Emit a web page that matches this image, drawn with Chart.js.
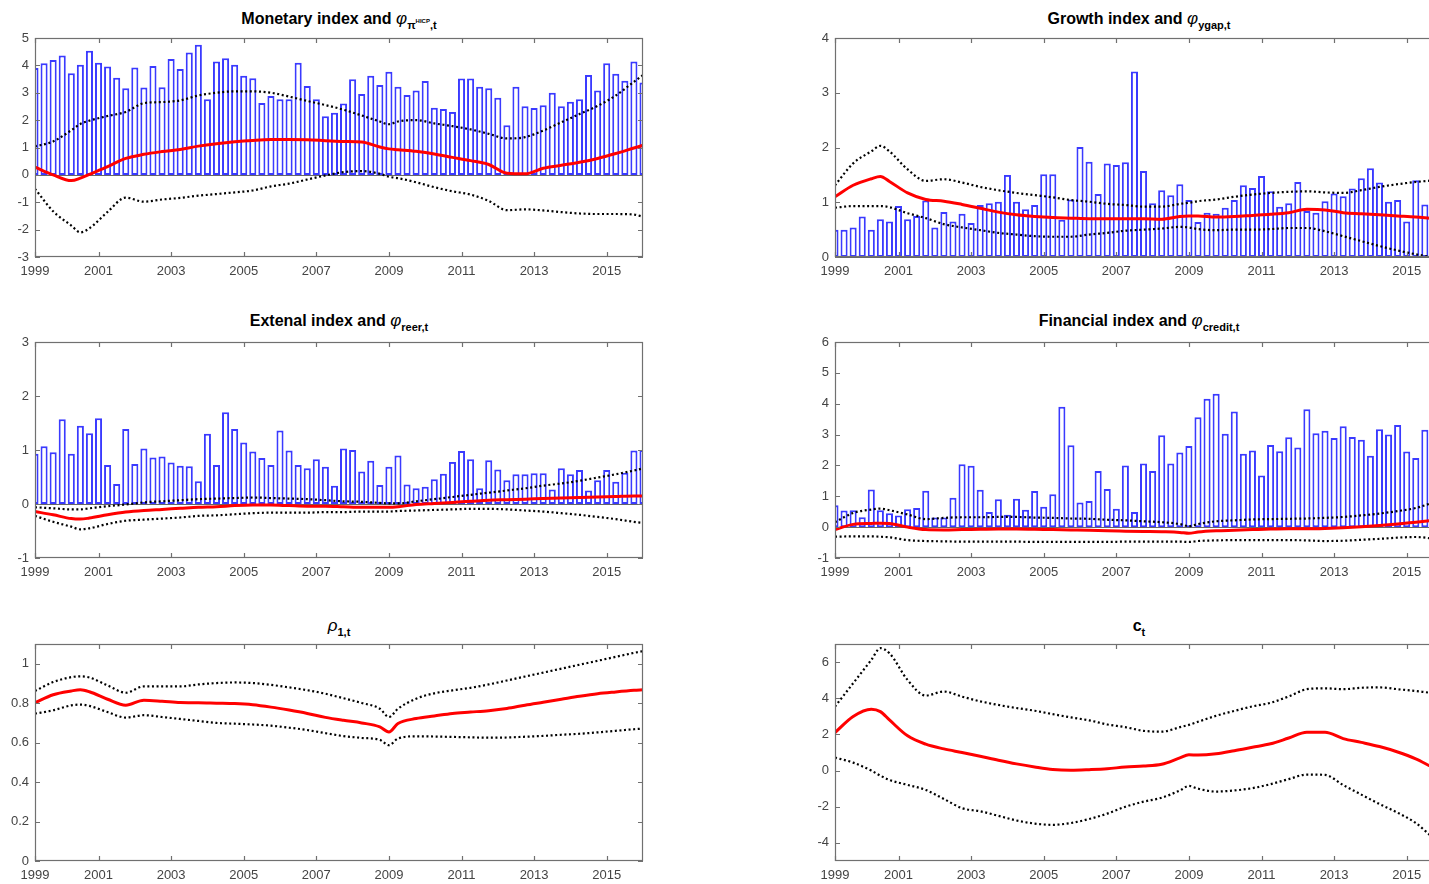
<!DOCTYPE html>
<html>
<head>
<meta charset="utf-8">
<script src="https://cdn.jsdelivr.net/npm/chart.js@4.4.1/dist/chart.umd.min.js"></script>
<style>
  html, body { margin:0; padding:0; background:#fff; }
  body { position:relative; width:1429px; height:884px; overflow:hidden; }
  canvas { position:absolute; }
  .t { position:absolute; width:608px; text-align:center; font:bold 16px 'Liberation Sans', Arial, sans-serif; color:#000; line-height:20px; white-space:nowrap; }
  .t sub { font-size:11px; vertical-align:-5px; line-height:0; }
  .t sub sup { font-size:6px; vertical-align:6px; }
  .t .ph { font-weight:normal; font-style:italic; font-size:17px; }
</style>
</head>
<body>
<div class="t" style="left:35px;top:9px">Monetary index and <span class="ph">φ</span><sub>π<sup>HICP</sup>,t</sub></div>
<div class="t" style="left:835px;top:9px">Growth index and <span class="ph">φ</span><sub>ygap,t</sub></div>
<div class="t" style="left:35px;top:311px">Extenal index and <span class="ph">φ</span><sub>reer,t</sub></div>
<div class="t" style="left:835px;top:311px">Financial index and <span class="ph">φ</span><sub>credit,t</sub></div>
<div class="t" style="left:35px;top:616px"><span class="ph">ρ</span><sub>1,t</sub></div>
<div class="t" style="left:835px;top:616px">c<sub>t</sub></div>
<script>
// ---------- categories / ticks ----------
const quarterIdx = [1,2,3,4,5,6,7,8,9,10,11,12,13,14,15,16,17,18,19,20,21,22,23,24,25,26,27,28,29,30,31,32,33,34,35,36,37,38,39,40,41,42,43,44,45,46,47,48,49,50,51,52,53,54,55,56,57,58,59,60,61,62,63,64,65,66,67,68];
const lineIdx = [1,3,5,6,7,9,11,13,15,17,19,21,23,25,27,29,31,33,35,37,39,40,41,43,45,47,49,51,53,55,57,59,61,63,65,67,68];
const xTickIdx = [1,8,16,24,32,40,48,56,64];
const xTickLabels = ['1999','2001','2003','2005','2007','2009','2011','2013','2015'];

// ---------- Monetary ----------
const monetaryBars = [3.90,4.08,4.20,4.36,3.71,4.02,4.53,4.10,3.96,3.55,3.16,3.92,3.19,3.98,3.20,4.23,3.87,4.47,4.75,2.76,4.14,4.26,4.02,3.62,3.53,2.63,2.88,2.76,2.76,4.10,3.25,2.76,2.14,2.27,2.61,3.49,2.95,3.62,3.28,3.77,3.22,2.92,3.08,3.43,2.45,2.41,2.30,3.52,3.52,3.22,3.16,2.82,1.81,3.22,2.51,2.44,2.54,3.00,2.51,2.67,2.76,3.65,3.08,4.08,3.69,3.44,4.14,3.37];
const monetaryMean = [0.28,0.0,-0.21,-0.12,0.02,0.3,0.6,0.75,0.85,0.93,1.05,1.14,1.21,1.26,1.29,1.29,1.28,1.25,1.22,1.2,1.02,0.95,0.92,0.86,0.76,0.64,0.52,0.38,0.06,0.04,0.24,0.35,0.46,0.6,0.78,0.98,1.08];
const monetaryUpper = [1.04,1.22,1.63,1.86,1.98,2.15,2.3,2.62,2.66,2.72,2.9,3.0,3.05,3.05,3.0,2.86,2.7,2.55,2.38,2.17,1.95,1.85,1.95,2.0,1.88,1.78,1.66,1.5,1.33,1.38,1.62,1.92,2.22,2.52,2.9,3.4,3.65];
const monetaryLower = [-0.51,-1.33,-1.85,-2.1,-1.95,-1.35,-0.83,-0.98,-0.9,-0.84,-0.76,-0.7,-0.64,-0.57,-0.42,-0.32,-0.17,-0.02,0.1,0.14,0.04,-0.07,-0.12,-0.27,-0.45,-0.6,-0.72,-0.95,-1.29,-1.26,-1.3,-1.36,-1.41,-1.43,-1.43,-1.45,-1.53];
const monetaryYTicks = [-3,-2,-1,0,1,2,3,4,5];

// ---------- Growth ----------
const growthBars = [0.5,0.5,0.54,0.74,0.5,0.69,0.65,0.93,0.69,0.75,1.03,0.54,0.82,0.65,0.79,0.62,0.95,0.98,1.01,1.5,1.01,0.87,0.95,1.51,1.51,0.68,1.05,2.01,1.74,1.15,1.71,1.68,1.73,3.39,1.57,0.98,1.22,1.13,1.33,1.04,0.64,0.81,0.79,0.90,1.04,1.31,1.26,1.48,1.2,0.92,0.98,1.37,0.84,0.81,1.02,1.16,1.11,1.25,1.44,1.62,1.36,1.01,1.04,0.65,1.40,0.96,1.13,1.0];
const growthMean = [1.10,1.31,1.43,1.47,1.38,1.17,1.05,1.02,0.96,0.89,0.82,0.77,0.74,0.72,0.71,0.70,0.70,0.70,0.70,0.69,0.74,0.75,0.75,0.73,0.74,0.76,0.78,0.81,0.87,0.86,0.81,0.79,0.77,0.75,0.73,0.70,0.69];
const growthUpper = [1.31,1.71,1.93,2.03,1.93,1.6,1.39,1.42,1.36,1.28,1.22,1.17,1.13,1.09,1.04,1.01,0.97,0.95,0.92,0.92,0.97,0.99,1.02,1.05,1.10,1.14,1.17,1.19,1.2,1.18,1.17,1.22,1.28,1.33,1.37,1.40,1.41];
const growthLower = [0.90,0.93,0.93,0.93,0.91,0.80,0.71,0.60,0.54,0.49,0.44,0.41,0.38,0.37,0.37,0.41,0.44,0.48,0.50,0.52,0.55,0.54,0.51,0.49,0.50,0.50,0.51,0.53,0.53,0.47,0.38,0.29,0.2,0.12,0.05,-0.01,-0.04];
const growthYTicks = [0,1,2,3,4];

// ---------- External ----------
const externalBars = [0.93,1.07,0.96,1.57,0.93,1.45,1.31,1.59,0.72,0.37,1.39,0.74,1.03,0.86,0.88,0.77,0.71,0.70,0.42,1.30,0.72,1.70,1.39,1.14,0.97,0.85,0.72,1.36,0.99,0.72,0.66,0.83,0.69,0.34,1.03,1.0,0.60,0.80,0.35,0.69,0.90,0.36,0.29,0.32,0.46,0.56,0.78,0.98,0.83,0.29,0.81,0.64,0.44,0.55,0.55,0.57,0.57,0.27,0.66,0.55,0.63,0.25,0.44,0.63,0.41,0.58,0.99,1.0];
const externalMean = [-0.14,-0.2,-0.27,-0.28,-0.26,-0.2,-0.15,-0.12,-0.10,-0.08,-0.06,-0.05,-0.03,-0.02,-0.02,-0.03,-0.04,-0.04,-0.05,-0.06,-0.06,-0.06,-0.05,-0.01,0.01,0.03,0.05,0.07,0.08,0.09,0.10,0.11,0.12,0.13,0.14,0.15,0.15];
const externalUpper = [-0.06,-0.08,-0.1,-0.1,-0.08,-0.04,-0.01,0.03,0.05,0.07,0.09,0.10,0.11,0.12,0.11,0.10,0.09,0.07,0.05,0.04,0.02,0.01,0.01,0.05,0.09,0.13,0.17,0.21,0.25,0.29,0.34,0.38,0.43,0.49,0.55,0.62,0.66];
const externalLower = [-0.22,-0.33,-0.42,-0.47,-0.45,-0.37,-0.31,-0.29,-0.27,-0.25,-0.22,-0.21,-0.19,-0.17,-0.16,-0.16,-0.16,-0.15,-0.15,-0.14,-0.14,-0.14,-0.13,-0.12,-0.11,-0.10,-0.09,-0.09,-0.10,-0.12,-0.14,-0.17,-0.20,-0.24,-0.28,-0.33,-0.35];
const externalYTicks = [-1,0,1,2,3];

// ---------- Financial ----------
const financialBars = [0.71,0.54,0.55,0.32,1.22,0.55,0.45,0.38,0.58,0.62,1.18,0.31,0.31,0.95,2.04,1.99,1.21,0.49,0.9,0.4,0.92,0.56,1.17,0.66,1.07,3.9,2.65,0.8,0.85,1.82,1.24,0.6,2.0,0.49,2.06,1.82,2.98,2.06,2.42,2.63,3.56,4.16,4.32,3.03,3.75,2.38,2.48,1.67,2.66,2.46,2.91,2.58,3.82,3.04,3.12,2.89,3.27,2.92,2.83,2.31,3.17,3.0,3.31,2.45,2.24,3.16,1.94,2.5];
const financialMean = [-0.08,0.09,0.12,0.13,0.12,0.0,-0.08,-0.09,-0.08,-0.07,-0.06,-0.06,-0.07,-0.08,-0.09,-0.10,-0.12,-0.13,-0.14,-0.15,-0.17,-0.2,-0.16,-0.12,-0.10,-0.08,-0.06,-0.05,-0.05,-0.04,-0.02,0.01,0.05,0.10,0.16,0.22,0.25];
const financialUpper = [0.16,0.46,0.57,0.6,0.55,0.41,0.26,0.30,0.32,0.32,0.33,0.33,0.31,0.30,0.28,0.27,0.24,0.22,0.19,0.16,0.10,0.03,0.10,0.19,0.22,0.25,0.26,0.27,0.28,0.30,0.33,0.38,0.44,0.52,0.62,0.80,0.87];
const financialLower = [-0.31,-0.30,-0.30,-0.31,-0.33,-0.42,-0.45,-0.46,-0.47,-0.47,-0.47,-0.47,-0.48,-0.48,-0.48,-0.48,-0.48,-0.47,-0.47,-0.47,-0.47,-0.48,-0.45,-0.43,-0.42,-0.42,-0.42,-0.42,-0.43,-0.45,-0.44,-0.41,-0.38,-0.34,-0.32,-0.38,-0.43];
const financialYTicks = [-1,0,1,2,3,4,5,6];

// ---------- rho_1,t ----------
const rhoMean = [0.803,0.843,0.862,0.868,0.858,0.82,0.79,0.815,0.81,0.803,0.802,0.80,0.798,0.792,0.78,0.765,0.748,0.728,0.713,0.70,0.68,0.654,0.697,0.722,0.735,0.748,0.755,0.762,0.773,0.79,0.805,0.82,0.835,0.848,0.857,0.865,0.868];
const rhoUpper = [0.862,0.907,0.932,0.936,0.93,0.89,0.853,0.885,0.885,0.885,0.895,0.902,0.905,0.902,0.893,0.88,0.866,0.848,0.825,0.801,0.772,0.73,0.772,0.823,0.85,0.865,0.878,0.895,0.915,0.935,0.955,0.975,0.995,1.015,1.035,1.055,1.064];
const rhoLower = [0.747,0.764,0.789,0.793,0.786,0.755,0.727,0.739,0.73,0.72,0.71,0.70,0.696,0.692,0.686,0.676,0.664,0.648,0.633,0.624,0.614,0.587,0.621,0.632,0.631,0.629,0.627,0.625,0.626,0.63,0.634,0.64,0.645,0.652,0.66,0.668,0.671];
const rhoYTicks = [0,0.2,0.4,0.6,0.8,1];

// ---------- c_t ----------
const cMean = [2.10,2.99,3.39,3.26,2.8,1.92,1.46,1.2,1.0,0.79,0.57,0.37,0.2,0.06,0.02,0.05,0.1,0.2,0.25,0.35,0.7,0.87,0.86,0.93,1.1,1.29,1.48,1.8,2.12,2.12,1.77,1.56,1.33,1.03,0.65,0.15,-0.05];
const cUpper = [3.54,4.83,6.12,6.77,6.49,5.01,4.15,4.37,4.09,3.83,3.63,3.46,3.31,3.12,2.94,2.78,2.55,2.40,2.2,2.15,2.4,2.53,2.7,3.03,3.3,3.55,3.75,4.1,4.5,4.55,4.5,4.58,4.6,4.5,4.4,4.3,4.3];
const cLower = [0.72,0.44,0.0,-0.28,-0.52,-0.79,-1.07,-1.57,-2.08,-2.25,-2.5,-2.76,-2.93,-3.0,-2.9,-2.68,-2.38,-2.0,-1.72,-1.5,-1.1,-0.85,-1.0,-1.16,-1.1,-0.97,-0.75,-0.47,-0.22,-0.24,-0.8,-1.33,-1.85,-2.33,-2.9,-3.75,-4.1];
const cYTicks = [-4,-2,0,2,4,6];

// ---------- drawing ----------
Chart.defaults.font.family = "'Liberation Sans', Arial, sans-serif";
Chart.defaults.font.size = 13;
Chart.defaults.color = '#444444';

const framePlugin = {
  id: 'frame',
  afterDatasetDraw(chart, args, opts) {
    if (!opts.baseline || args.meta.type !== 'bar') return;
    const { ctx, chartArea: a } = chart;
    const y = Math.round(chart.scales.y.getPixelForValue(0)) + 0.5;
    ctx.save();
    ctx.strokeStyle = '#666666';
    ctx.lineWidth = 1;
    ctx.beginPath(); ctx.moveTo(a.left, y); ctx.lineTo(a.right, y); ctx.stroke();
    ctx.restore();
  },
  afterDraw(chart) {
    const { ctx, chartArea: a, scales } = chart;
    ctx.save();
    ctx.strokeStyle = '#707070';
    ctx.lineWidth = 1.2;
    ctx.strokeRect(a.left + 0.5, a.top + 0.5, a.right - a.left - 1, a.bottom - a.top - 1);
    ctx.beginPath();
    const tl = 5;
    scales.x.ticks.forEach(t => {
      const px = Math.round(scales.x.getPixelForValue(t.value)) + 0.5;
      ctx.moveTo(px, a.bottom); ctx.lineTo(px, a.bottom - tl);
      ctx.moveTo(px, a.top); ctx.lineTo(px, a.top + tl);
    });
    scales.y.ticks.forEach(t => {
      const py = Math.round(scales.y.getPixelForValue(t.value)) + 0.5;
      ctx.moveTo(a.left, py); ctx.lineTo(a.left + tl, py);
      ctx.moveTo(a.right, py); ctx.lineTo(a.right - tl, py);
    });
    ctx.stroke();
    ctx.restore();
  }
};

function fmt(v) { return String(Math.round(v * 10) / 10); }

function makeChart(p) {
  const canvas = document.createElement('canvas');
  canvas.width = 660;
  canvas.height = p.h;
  canvas.style.left = p.left + 'px';
  canvas.style.top = p.top + 'px';
  document.body.appendChild(canvas);

  const datasets = [];
  if (p.bars) {
    datasets.push({
      type: 'bar',
      data: quarterIdx.map((x, i) => ({ x: x, y: p.bars[i] })),
      backgroundColor: '#ffffff',
      borderColor: '#3a3aff',
      borderWidth: 2,
      borderSkipped: false,
      barPercentage: 0.78,
      categoryPercentage: 1,
      order: 3,
      clip: 0
    });
  }
  const line = (vals, color, width, dash, order) => ({
    type: 'line',
    data: lineIdx.map((x, i) => ({ x: x, y: vals[i] })),
    borderColor: color,
    borderWidth: width,
    borderDash: dash,
    pointRadius: 0,
    fill: false,
    cubicInterpolationMode: 'monotone',
    order: order,
    clip: 0
  });
  datasets.push(line(p.up, '#000000', 2.2, [2, 2.6], 2));
  datasets.push(line(p.lo, '#000000', 2.2, [2, 2.6], 2));
  datasets.push(line(p.mean, '#ff0000', 3, [], 1));

  new Chart(canvas, {
    type: p.bars ? 'bar' : 'line',
    data: { datasets },
    plugins: [framePlugin],
    options: {
      responsive: false,
      animation: false,
      events: [],
      layout: { padding: { top: 6, right: 17, left: 0, bottom: 0 } },
      plugins: { legend: { display: false }, tooltip: { enabled: false }, title: { display: false }, frame: { baseline: !!p.bars } },
      scales: {
        x: {
          type: 'linear',
          min: 1, max: 68,
          offset: false,
          grid: { display: false, drawTicks: false, offset: false },
          border: { display: false },
          ticks: {
            autoSkip: false, maxRotation: 0, minRotation: 0, padding: 7,
            callback: (v) => { const i = xTickIdx.indexOf(v); return i >= 0 ? xTickLabels[i] : ''; }
          },
          afterBuildTicks: (s) => { s.ticks = xTickIdx.map(v => ({ value: v })); },
          afterFit: (s) => { s.height = 22; s.paddingLeft = 0; s.paddingRight = 0; }
        },
        y: {
          type: 'linear',
          min: p.ymin, max: p.ymax,
          grid: { display: false, drawTicks: false },
          border: { display: false },
          ticks: { padding: 6, callback: (v) => fmt(v) },
          afterBuildTicks: (s) => { s.ticks = p.yTicks.map(v => ({ value: v })); },
          afterFit: (s) => { s.width = 35; s.paddingTop = 0; s.paddingBottom = 0; }
        }
      }
    }
  });
}

const panels = [
  { left: 0,   top: 32,  h: 247, ymin: -3, ymax: 5,   yTicks: monetaryYTicks,  bars: monetaryBars,  mean: monetaryMean,  up: monetaryUpper,  lo: monetaryLower },
  { left: 800, top: 32,  h: 247, ymin: 0,  ymax: 4,   yTicks: growthYTicks,    bars: growthBars,    mean: growthMean,    up: growthUpper,    lo: growthLower },
  { left: 0,   top: 336, h: 244, ymin: -1, ymax: 3,   yTicks: externalYTicks,  bars: externalBars,  mean: externalMean,  up: externalUpper,  lo: externalLower },
  { left: 800, top: 336, h: 244, ymin: -1, ymax: 6,   yTicks: financialYTicks, bars: financialBars, mean: financialMean, up: financialUpper, lo: financialLower },
  { left: 0,   top: 638, h: 245, ymin: 0,  ymax: 1.1, yTicks: rhoYTicks,       bars: null,          mean: rhoMean,       up: rhoUpper,       lo: rhoLower },
  { left: 800, top: 638, h: 245, ymin: -5, ymax: 7,   yTicks: cYTicks,         bars: null,          mean: cMean,         up: cUpper,         lo: cLower }
];
panels.forEach(makeChart);
</script>
</body>
</html>
